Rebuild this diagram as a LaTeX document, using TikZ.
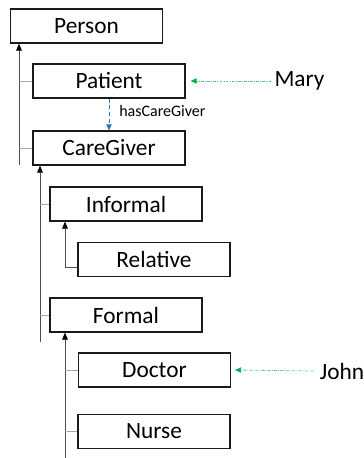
\documentclass[tikz,border=0pt]{standalone}
\usepackage{fontspec}
\setmainfont{Carlito}
\usetikzlibrary{arrows.meta,positioning,calc}
\definecolor{ontink}{HTML}{1A1A1A}
\definecolor{ontline}{HTML}{4D4D4D}
\definecolor{onttick}{HTML}{A6A6A6}
\definecolor{ontblue}{HTML}{2E75B6}
\definecolor{ontgreen}{HTML}{00B050}
\tikzset{
  cls/.style={draw=ontink, line width=0.8pt, fill=white, minimum width=114pt, minimum height=25.5pt, inner sep=0pt, font=\fontsize{17.5}{21}\selectfont},
  inst/.style={inner sep=0pt, font=\fontsize{17.5}{21}\selectfont},
  lbl/.style={inner sep=0pt, font=\fontsize{12}{14}\selectfont, anchor=west},
  isa/.style={-{Triangle[length=1.9mm, width=1.5mm, color=black]}, line width=0.7pt, color=ontline},
  tick/.style={line width=0.7pt, color=onttick},
  rel/.style={-{Triangle[length=1.6mm, width=1.4mm]}, densely dashed, line width=0.7pt, color=ontblue},
  typ/.style={-{Triangle[length=1.6mm, width=1.4mm, color=ontgreen]}, dash pattern=on 2pt off 1pt on 0.6pt off 1pt, line width=0.6pt, color=ontgreen!70},
}
\begin{document}
\begin{tikzpicture}[x=0.75pt, y=-0.75pt]
  \useasboundingbox (0,0) rectangle (364,458);
  % class boxes
  \node[cls] (person) at (86.5,26) {Person};
  \node[cls] (patient) at (109,81) {Patient};
  \node[cls] (care) at (109,148) {CareGiver};
  \node[cls] (informal) at (126,204) {Informal};
  \node[cls] (relative) at (154,259.5) {Relative};
  \node[cls] (formal) at (126,315) {Formal};
  \node[cls] (doctor) at (154.5,370) {Doctor};
  \node[cls] (nurse) at (154,431.5) {Nurse};
  % instances
  \node[inst] (mary) at (299.5,81) {Mary};
  \node[inst] (john) at (342,371) {John};
  % subclass stems
  \coordinate (pstem) at (19,165);
  \coordinate (cstem) at (40,342);
  \coordinate (fstem) at (65,458);
  \coordinate (rbend) at (65,267);
  \draw[isa] (pstem) -- (pstem |- person.south);
  \draw[tick] (pstem |- patient.west) -- (patient.west);
  \draw[tick] (pstem |- care.west) -- (care.west);
  \draw[isa] (cstem) -- (cstem |- care.south);
  \draw[tick] (cstem |- informal.west) -- (informal.west);
  \draw[tick] (cstem |- formal.west) -- (formal.west);
  \draw[isa] (relative.west |- rbend) -- (rbend) -- (rbend |- informal.south);
  \draw[isa] (fstem) -- (fstem |- formal.south);
  \draw[tick] (fstem |- doctor.west) -- (doctor.west);
  \draw[tick] (fstem |- nurse.west) -- (nurse.west);
  % property and typing
  \draw[rel] (patient.south) -- (care.north);
  \node[lbl] (hascg) at (119,111) {hasCareGiver};
  \draw[typ] ($(mary.west)+(-3,0)$) -- ($(patient.east)+(5,0)$);
  \draw[typ] ($(john.west)+(-6,0)$) -- ($(doctor.east)+(4,0)$);
\end{tikzpicture}
\end{document}
